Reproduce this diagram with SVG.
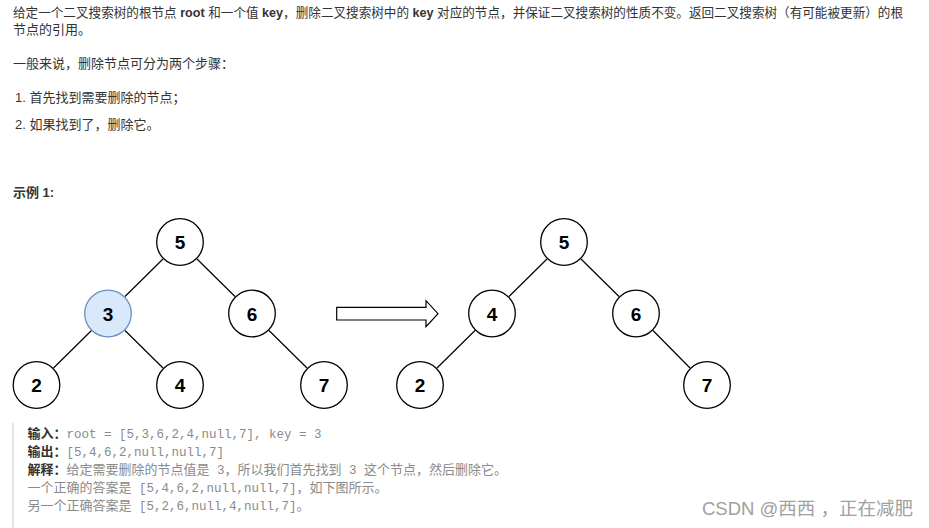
<svg xmlns="http://www.w3.org/2000/svg" width="929" height="528" viewBox="0 0 929 528">
<style>
.t{font-family:"Liberation Sans","Noto Sans CJK SC",sans-serif;font-size:13px;fill:#333}
.b{font-weight:bold}
.m{font-family:"Liberation Mono","Noto Sans CJK SC",monospace;font-size:12.5px;fill:#8a8a8a}
.mc{font-family:"Liberation Sans","Noto Sans CJK SC",sans-serif;font-size:13px;fill:#8a8a8a}
.n circle{fill:#fff;stroke:#000;stroke-width:1.3}
.n text{font-family:"Liberation Sans",Arial,sans-serif;font-weight:bold;font-size:19px;fill:#000;text-anchor:middle}
.hl circle{fill:#dae8fc;stroke:#6c8ebf}
.e line{stroke:#000;stroke-width:1.2}
</style>
<rect width="929" height="528" fill="#fff"/>
<g id="text">
<text class="t" x="13" y="16.5" style="font-size:12.6px" textLength="890" lengthAdjust="spacing">给定一个二叉搜索树的根节点 <tspan class="b">root</tspan> 和一个值 <tspan class="b">key</tspan>，删除二叉搜索树中的 <tspan class="b">key</tspan> 对应的节点，并保证二叉搜索树的性质不变。返回二叉搜索树（有可能被更新）的根</text>
<text class="t" x="13" y="34">节点的引用。</text>
<text class="t" x="13" y="68">一般来说，删除节点可分为两个步骤：</text>
<text class="t" x="15" y="102">1. 首先找到需要删除的节点；</text>
<text class="t" x="15" y="129">2. 如果找到了，删除它。</text>
<text class="t b" x="13" y="197">示例 1:</text>
</g>
<g id="connectors" class="e">
<line x1="163" y1="259" x2="125" y2="296.5"/>
<line x1="197" y1="259" x2="235" y2="296.5"/>
<line x1="91.5" y1="330.5" x2="53.5" y2="368"/>
<line x1="125" y1="330.5" x2="163" y2="368"/>
<line x1="269" y1="330.5" x2="307" y2="368"/>
<line x1="547" y1="259" x2="509" y2="296.5"/>
<line x1="581" y1="259" x2="619" y2="296.5"/>
<line x1="475" y1="330.5" x2="437" y2="368"/>
<line x1="653" y1="330.5" x2="690" y2="368"/>
</g>
<g id="L5" class="n"><circle cx="180" cy="242" r="23.3"/><text x="180" y="249">5</text></g>
<g id="L3" class="n hl"><circle cx="108" cy="313.5" r="23.3"/><text x="108" y="320.5">3</text></g>
<g id="L6" class="n"><circle cx="252" cy="313.5" r="23.3"/><text x="252" y="320.5">6</text></g>
<g id="L2" class="n"><circle cx="36.5" cy="385" r="23.3"/><text x="36.5" y="392">2</text></g>
<g id="L4" class="n"><circle cx="180" cy="385" r="23.3"/><text x="180" y="392">4</text></g>
<g id="L7" class="n"><circle cx="324" cy="385" r="23.3"/><text x="324" y="392">7</text></g>
<g id="arrow"><polygon points="336.7,307.3 426,307.3 426,300.7 438,313.7 426,326.7 426,320 336.7,320" fill="#fff" stroke="#000" stroke-width="1.2"/></g>
<g id="R5" class="n"><circle cx="564" cy="242" r="23.3"/><text x="564" y="249">5</text></g>
<g id="R4" class="n"><circle cx="492" cy="313.5" r="23.3"/><text x="492" y="320.5">4</text></g>
<g id="R6" class="n"><circle cx="636" cy="313.5" r="23.3"/><text x="636" y="320.5">6</text></g>
<g id="R2" class="n"><circle cx="420" cy="385" r="23.3"/><text x="420" y="392">2</text></g>
<g id="R7" class="n"><circle cx="707" cy="385" r="23.3"/><text x="707" y="392">7</text></g>
<g id="example">
<rect x="12" y="423" width="2" height="105" fill="#e3e3e3"/>
<text x="27.5" y="437.5"><tspan class="t b">输入：</tspan><tspan class="m">root = [5,3,6,2,4,null,7], key = 3</tspan></text>
<text x="27.5" y="455.5"><tspan class="t b">输出：</tspan><tspan class="m">[5,4,6,2,null,null,7]</tspan></text>
<text x="27.5" y="473.5"><tspan class="t b">解释：</tspan><tspan class="mc">给定需要删除的节点值是</tspan><tspan class="m"> 3</tspan><tspan class="mc">，所以我们首先找到</tspan><tspan class="m"> 3 </tspan><tspan class="mc">这个节点，然后删除它。</tspan></text>
<text x="27.5" y="491.5"><tspan class="mc">一个正确的答案是</tspan><tspan class="m"> [5,4,6,2,null,null,7]</tspan><tspan class="mc">，如下图所示。</tspan></text>
<text x="27.5" y="509.5"><tspan class="mc">另一个正确答案是</tspan><tspan class="m"> [5,2,6,null,4,null,7]</tspan><tspan class="mc">。</tspan></text>
</g>
<text x="702" y="515" font-family="Liberation Sans,Noto Sans CJK SC,sans-serif" font-size="18.5" fill="#a0a0a0">CSDN @西西 ，正在减肥</text>
</svg>
